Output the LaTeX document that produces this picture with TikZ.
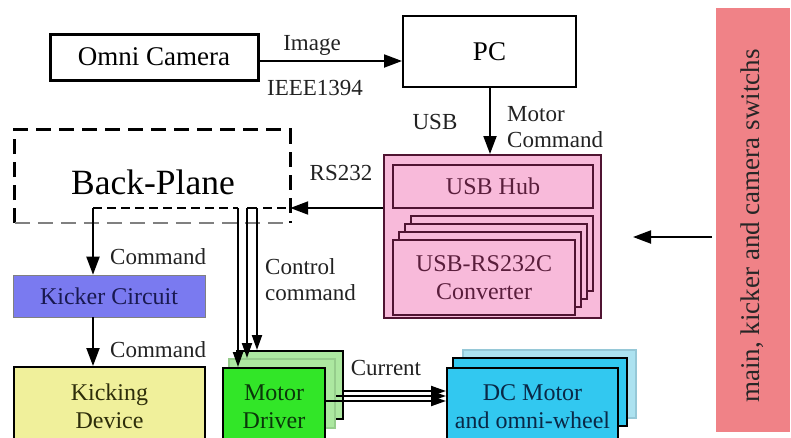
\documentclass[tikz,border=0pt]{standalone}
\usepackage{fontspec}
\setmainfont{Liberation Serif}
\usetikzlibrary{arrows.meta}

\definecolor{pinkfill}{RGB}{248,186,218}
\definecolor{pinkline}{RGB}{80,20,50}
\definecolor{pinktext}{RGB}{90,30,60}
\definecolor{kickerfill}{RGB}{122,122,240}
\definecolor{kickertext}{RGB}{25,25,80}
\definecolor{devfill}{RGB}{240,240,155}
\definecolor{devtext}{RGB}{45,45,10}
\definecolor{drvfill}{RGB}{50,230,40}
\definecolor{drvback}{RGB}{172,232,160}
\definecolor{drvpale}{RGB}{150,205,140}
\definecolor{drvtext}{RGB}{10,55,10}
\definecolor{dcfill}{RGB}{50,200,240}
\definecolor{dcback}{RGB}{172,226,240}
\definecolor{dcpale}{RGB}{150,200,215}
\definecolor{dctext}{RGB}{10,40,70}
\definecolor{swfill}{RGB}{240,130,135}
\definecolor{lbltext}{RGB}{34,34,34}

\begin{document}
\begin{tikzpicture}[x=1pt,y=-1pt,
  arr/.style={line width=2pt,-{Triangle[length=18pt,width=13pt]}},
  arrs/.style={line width=2pt,-{Triangle[length=15pt,width=10pt]}},
  blk/.style={draw,line width=2pt,inner sep=0pt,align=center},
  boxfont/.style={font=\fontsize{24}{28}\selectfont},
  lbl/.style={font=\fontsize{23}{26}\selectfont,inner sep=0pt,align=left,text=lbltext},
  layer/.style={draw=pinkline,fill=pinkfill,line width=2pt},
  bpdash/.style={line width=3pt,dash pattern=on 15pt off 8pt},
  bpinner/.style={line width=2.5pt,dash pattern=on 9pt off 5pt}]

\useasboundingbox (0,0) rectangle (791,437);
\clip (0,0) rectangle (791,437);

% camera and PC
\node[blk,line width=3pt,minimum width=208pt,minimum height=46pt,
      font=\fontsize{27}{30}\selectfont] (omni) at (154,57) {Omni Camera};
\node[blk,minimum width=173pt,minimum height=71pt,
      font=\fontsize{27}{30}\selectfont] (pc) at (489.5,51.5) {PC};
\coordinate (camy) at (300,61);
\draw[arr] (omni.east |- camy) -- (pc.west |- camy);
\node[lbl] (limg) at (312,45) {Image};
\node[lbl] (lieee) at (315,88) {IEEE1394};

% USB hub and converters
\node[layer,minimum width=217pt,minimum height=163pt,inner sep=0pt] (pink) at (492.5,236.5) {};
\node[layer,boxfont,text=pinktext,minimum width=200pt,minimum height=43pt,inner sep=0pt] (hub) at (493,186.5) {USB Hub};
\draw[layer] (411,216) rectangle (593,291);
\draw[layer] (405,224) rectangle (587,299);
\draw[layer] (399,232) rectangle (581,307);
\node[layer,boxfont,text=pinktext,minimum width=182pt,minimum height=75pt,inner sep=0pt,align=center]
  (conv) at (484,277.5) {USB-RS232C\\Converter};

\coordinate (usbx) at (490,100);
\draw[arr] (pc.south -| usbx) -- (pink.north -| usbx);
\node[lbl] (lusb) at (435,122) {USB};
\node[lbl,anchor=west] (lmc) at (507,127) {Motor\\Command};

% back-plane
\node[minimum width=275pt,minimum height=93pt,inner sep=0pt] (bp) at (152.5,176.5) {};
\node[font=\fontsize{35.5}{40}\selectfont,inner sep=0pt] (bptext) at (153,182) {Back-Plane};
\draw[bpdash] (bp.south west) -- (bp.north west) -- (bp.north east) -- (bp.south east);
\draw[line width=1.5pt,gray,dash pattern=on 15pt off 8pt] (bp.south west) -- (bp.south east);

\coordinate (kc) at (93,208);
\coordinate (d1) at (238,208);
\coordinate (d2) at (247,208);
\coordinate (d3) at (257,208);
\coordinate (d4) at (263,208);
\draw[bpinner] (kc) -- (d1);
\draw[line width=2.5pt] (d2) -- (d3);
\draw[bpinner] (d4) -- (bp.east |- d4);

\coordinate (rsy) at (300,208);
\draw[arr] (pink.west |- rsy) -- (bp.east |- rsy);
\node[lbl] (lrs) at (341,173) {RS232};

% kicker chain
\node[draw=gray,line width=0.6pt,fill=kickerfill,boxfont,text=kickertext,minimum width=192pt,minimum height=42pt,inner sep=0pt]
  (kick) at (109,296) {Kicker Circuit};
\node[blk,fill=devfill,boxfont,text=devtext,minimum width=191pt,minimum height=78pt]
  (dev) at (109.5,406) {Kicking\\Device};
\draw[arr] (kc) -- (kc |- kick.north);
\draw[arr] (kc |- kick.south) -- (kc |- dev.north);
\node[lbl,anchor=west] (lcmd1) at (110,257) {Command};
\node[lbl,anchor=west] (lcmd2) at (110,350) {Command};

% motor drivers
\node[draw,line width=2pt,fill=drvback,minimum width=106pt,minimum height=68pt,inner sep=0pt] (md3) at (290,385) {};
\node[draw=drvpale,line width=2pt,fill=drvback,minimum width=106pt,minimum height=69pt,inner sep=0pt] (md2) at (282,393.5) {};
\node[blk,fill=drvfill,boxfont,text=drvtext,minimum width=102pt,minimum height=77pt] (md1) at (274,406.5) {Motor\\Driver};
\draw[arrs] (d1) -- (d1 |- md1.north);
\draw[arrs] (d2) -- (d2 |- md2.north);
\draw[arrs] (d3) -- (d3 |- md3.north);
\node[lbl,anchor=west] (lctl) at (265,280) {Control\\command};

% motors
\node[draw=dcpale,line width=2pt,fill=dcback,minimum width=173pt,minimum height=68pt,inner sep=0pt] (dc3) at (549.5,384) {};
\node[draw,line width=2pt,fill=dcfill,minimum width=174pt,minimum height=68pt,inner sep=0pt] (dc2) at (540,392) {};
\node[blk,fill=dcfill,boxfont,text=dctext,minimum width=171pt,minimum height=77pt] (dc1) at (532.5,406.5) {DC Motor\\and omni-wheel};

\coordinate (c1) at (400,391);
\coordinate (c2) at (400,396);
\coordinate (c3) at (400,401);
\draw[arrs] (md3.east |- c1) -- (dc1.west |- c1);
\draw[arrs] (md2.east |- c2) -- (dc1.west |- c2);
\draw[arrs] (md1.east |- c3) -- (dc1.west |- c3);
\node[lbl] (lcur) at (386,368) {Current};

% switches
\node[fill=swfill,minimum width=74pt,minimum height=424pt,inner sep=0pt] (sw) at (753,220) {};
\node[rotate=90,font=\fontsize{27}{30}\selectfont,inner sep=0pt,text=black!85] (swt) at (752,226) {main, kicker and camera switchs};
\coordinate (swb) at (712,237);
\coordinate (swa) at (633,237);
\draw[arr] (swb) -- (swa);

\end{tikzpicture}
\end{document}
